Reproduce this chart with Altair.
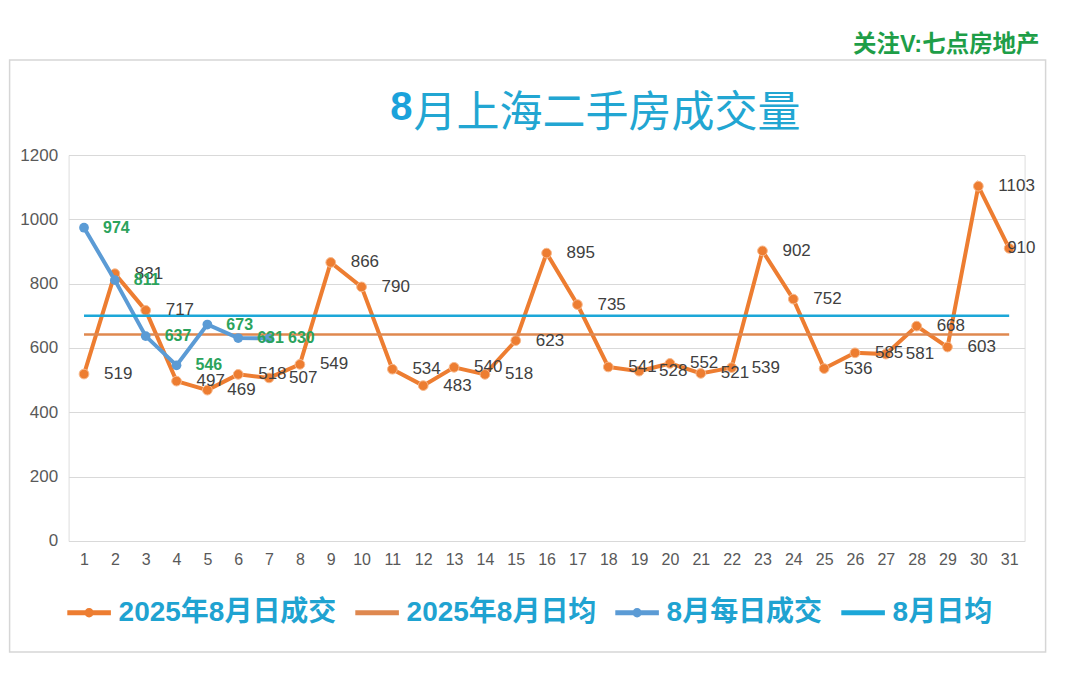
import altair as alt
import pandas as pd

# ---------------- data ----------------
days = list(range(1, 32))
daily_2025 = [519, 831, 717, 497, 469, 518, 507, 549, 866, 790, 534, 483, 540, 518, 623,
              895, 735, 541, 528, 552, 521, 539, 902, 752, 536, 585, 581, 668, 603, 1103, 910]
avg_2025 = 642
days_new = [1, 2, 3, 4, 5, 6, 7]
daily_new = [974, 811, 637, 546, 673, 631, 630]
avg_new = 700

series_names = ["2025年8月日成交", "2025年8月日均", "8月每日成交", "8月日均"]
series_colors = ["#ED7D31", "#DF884F", "#5B9BD5", "#1CA7D8"]
y_ticks = [0, 200, 400, 600, 800, 1000, 1200]

title_head = "8"
title_rest = "月上海二手房成交量"
watermark_text = "关注V:七点房地产"

# ---------------- table ----------------
rows = []
for d, v in zip(days, daily_2025):
    rows.append({"day": d, "value": v, "series": series_names[0]})
for d in days:
    rows.append({"day": d, "value": avg_2025, "series": series_names[1]})
for d, v in zip(days_new, daily_new):
    rows.append({"day": d, "value": v, "series": series_names[2]})
for d in days:
    rows.append({"day": d, "value": avg_new, "series": series_names[3]})
df = pd.DataFrame(rows)

FONT = "Liberation Sans, Arial, Noto Sans CJK SC"
CJK_FONT = "Liberation Sans, Noto Sans CJK SC"

W, H = 956, 386

x_enc = alt.X("day:O", scale=alt.Scale(type="point", padding=0.5),
              axis=alt.Axis(labelAngle=0, labelColor="#595959", labelFontSize=16,
                            labelFont=FONT, labelPadding=11, domain=False, ticks=False,
                            grid=False, title=None))
y_enc = alt.Y("value:Q", scale=alt.Scale(domain=[0, 1200], nice=False),
              axis=alt.Axis(values=y_ticks, format="d", grid=True, gridColor="#D9D9D9",
                            gridWidth=1.2, domain=False, ticks=False, labelColor="#595959",
                            labelFontSize=17, labelFont=FONT, labelPadding=11, title=None))
color_scale = alt.Scale(domain=series_names, range=series_colors)

base = alt.Chart(df).encode(x=x_enc, y=y_enc)


def only(name):
    return alt.datum.series == name


line_2025 = base.transform_filter(only(series_names[0])).mark_line(
    strokeWidth=4, color=series_colors[0])
pts_2025 = base.transform_filter(only(series_names[0])).mark_point(
    filled=True, size=95, opacity=1, fill=series_colors[0], stroke="#F6B98E", strokeWidth=1)
avg_2025_line = base.transform_filter(only(series_names[1])).mark_line(
    strokeWidth=2.5, color=series_colors[1])
line_new = base.transform_filter(only(series_names[2])).mark_line(
    strokeWidth=4, color=series_colors[2])
pts_new = base.transform_filter(only(series_names[2])).mark_point(
    filled=True, size=95, opacity=1, fill=series_colors[2])
avg_new_line = base.transform_filter(only(series_names[3])).mark_line(
    strokeWidth=2.5, color=series_colors[3])

lbl_2025 = base.transform_filter(only(series_names[0])).transform_filter(alt.datum.day < 31).mark_text(
    align="left", baseline="middle", dx=20, fontSize=17, font=FONT, color="#404040").encode(text="value:Q")
lbl_2025_last = base.transform_filter(only(series_names[0])).transform_filter(alt.datum.day == 31).mark_text(
    align="left", baseline="middle", dx=-2, fontSize=17, font=FONT, color="#404040").encode(text="value:Q")
lbl_new = base.transform_filter(only(series_names[2])).mark_text(
    align="left", baseline="middle", dx=19, fontSize=16, font=FONT, fontWeight="bold",
    color="#2BA35C").encode(text="value:Q")

# legend-only layer (invisible marks; legend symbols are line + dot / plain line)
dot_path = "M-1,0L1,0M-0.1,0A0.1,0.1,0,1,1,0.1,0A0.1,0.1,0,1,1,-0.1,0Z"
line_path = "M-1,0L1,0"
leg = alt.Legend(title=None, orient="none", direction="horizontal", legendX=-4, legendY=433,
                 labelFont=CJK_FONT, labelFontSize=28, labelFontWeight="bold",
                 labelColor="#1FA3D1", labelLimit=0, symbolSize=1900, symbolStrokeWidth=5,
                 symbolOpacity=1, labelOffset=5, columnPadding=8, padding=0)
legend_layer = base.mark_point(filled=False, opacity=0).encode(
    color=alt.Color("series:N", scale=color_scale, legend=leg),
    shape=alt.Shape("series:N", scale=alt.Scale(domain=series_names,
                                                 range=[dot_path, line_path, dot_path, line_path]),
                    legend=leg),
)

# decorations: frame, watermark, title
frame = alt.Chart(pd.DataFrame({"k": [0]})).mark_rect(
    fillOpacity=0, stroke="#D6D6D6", strokeWidth=1.5).encode(
    x=alt.value(-59), x2=alt.value(977), y=alt.value(-95), y2=alt.value(497))
watermark = alt.Chart(pd.DataFrame({"t": [watermark_text]})).mark_text(
    align="right", baseline="middle", fontSize=23.5, fontWeight="bold", font=CJK_FONT,
    color="#1E9E48").encode(text="t:N", x=alt.value(971), y=alt.value(-110))
title_a = alt.Chart(pd.DataFrame({"t": [title_head]})).mark_text(
    align="right", baseline="alphabetic", fontSize=40, fontWeight="bold", font=FONT,
    color="#1BA2DB").encode(text="t:N", x=alt.value(344), y=alt.value(-35))
title_b = alt.Chart(pd.DataFrame({"t": [title_rest]})).mark_text(
    align="left", baseline="alphabetic", fontSize=43, fontWeight="normal",
    font="Noto Sans CJK SC", color="#22A6D2").encode(text="t:N", x=alt.value(345), y=alt.value(-28))

chart = alt.layer(
    frame, watermark, title_a, title_b,
    line_2025, pts_2025, avg_2025_line, line_new, pts_new, avg_new_line,
    lbl_2025, lbl_2025_last, lbl_new, legend_layer,
).properties(
    width=W, height=H,
    autosize=alt.AutoSizeParams(type="none"),
    padding={"left": 60.6, "top": 147, "right": 40, "bottom": 120},
).configure_view(strokeWidth=0).configure(background="white")

chart.save("out.html", embed_options={"renderer": "svg", "actions": False})
